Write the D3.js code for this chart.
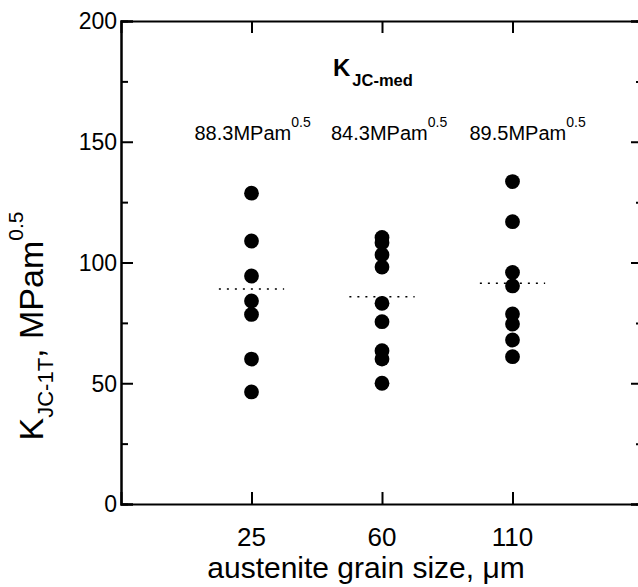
<!DOCTYPE html>
<html>
<head>
<meta charset="utf-8">
<script src="https://cdn.jsdelivr.net/npm/d3@7"></script>
<style>
  body { margin: 0; background: #fff; }
  svg { font-family: Arial, "Liberation Sans", sans-serif; }
</style>
</head>
<body>
<div id="chart"></div>
<script>
// grain size groups and K_JC(1T) values
var grainSizes = ["25", "60", "110"];
var kjc25 = [128.7, 108.9, 94.4, 84.1, 78.5, 60.0, 46.4];
var kjc60 = [110.4, 108.2, 103.2, 98.1, 83.1, 75.5, 63.5, 60.0, 50.0];
var kjc110 = [133.5, 116.9, 95.9, 90.3, 78.7, 74.5, 67.9, 61.0];
var medLine = [89.0, 85.8, 91.4];          // dotted median marks
var medLabels = ["88.3", "84.3", "89.5"];  // K_JC-med texts
var yTicks = [0, 50, 100, 150, 200];
var yMinor = [25, 75, 125, 175];

var width = 638, height = 587;
var m = {left: 121, top: 21, bottom: 83};
var plotRight = 643;

var svg = d3.select("#chart").append("svg")
  .attr("width", width)
  .attr("height", height);

var x = d3.scaleLinear().domain([0, 4]).range([m.left, plotRight]);
var y = d3.scaleLinear().domain([0, 200]).range([height - m.bottom, m.top]);

var catPos = grainSizes.map(function(d, i) { return i + 1; });

// frame axes, ticks pointing inward
var g = svg.append("g");
g.append("g")
  .attr("transform", "translate(" + x(0) + ",0)")
  .call(d3.axisRight(y).tickValues(yTicks).tickSize(12).tickFormat(""));
g.append("g")
  .attr("transform", "translate(" + x(0) + ",0)")
  .call(d3.axisRight(y).tickValues(yMinor).tickSize(7).tickFormat(""));
g.append("g")
  .attr("transform", "translate(" + x(4) + ",0)")
  .call(d3.axisLeft(y).tickValues(yTicks).tickSize(12).tickFormat(""));
g.append("g")
  .attr("transform", "translate(" + x(4) + ",0)")
  .call(d3.axisLeft(y).tickValues(yMinor).tickSize(7).tickFormat(""));
g.append("g")
  .attr("transform", "translate(0," + y(0) + ")")
  .call(d3.axisTop(x).tickValues(catPos).tickSize(12).tickFormat(""));
g.append("g")
  .attr("transform", "translate(0," + y(200) + ")")
  .call(d3.axisBottom(x).tickValues(catPos).tickSize(12).tickFormat(""));
g.selectAll(".domain").attr("stroke", "#000").attr("stroke-width", 2);
g.selectAll(".tick line").attr("stroke", "#000").attr("stroke-width", 2);

// y tick labels
svg.append("g").selectAll("text")
  .data(yTicks).enter().append("text")
  .attr("x", x(0) - 4)
  .attr("y", function(d) { return y(d); })
  .attr("dy", "0.36em")
  .attr("text-anchor", "end")
  .style("font-size", "23px")
  .text(function(d) { return d; });

// x tick labels
svg.append("g").selectAll("text")
  .data(grainSizes).enter().append("text")
  .attr("x", function(d, i) { return x(i + 1); })
  .attr("y", y(0) + 42)
  .attr("text-anchor", "middle")
  .style("font-size", "26px")
  .text(function(d) { return d; });

// axis titles
svg.append("text")
  .attr("x", 366)
  .attr("y", 578)
  .attr("text-anchor", "middle")
  .style("font-size", "30px")
  .text("austenite grain size, \u03bcm");

var yl = svg.append("text")
  .attr("transform", "translate(43," + 326 + ") rotate(-90)")
  .attr("text-anchor", "middle")
  .style("font-size", "34px");
yl.append("tspan").text("K");
yl.append("tspan").attr("dy", 10).style("font-size", "22px").text("JC-1T");
yl.append("tspan").attr("dy", -10).text(", MPam");
yl.append("tspan").attr("dy", -20).style("font-size", "21px").text("0.5");

// data points
var groups = [kjc25, kjc60, kjc110];
groups.forEach(function(vals, i) {
  svg.append("g").selectAll("circle")
    .data(vals).enter().append("circle")
    .attr("cx", x(i + 1))
    .attr("cy", function(d) { return y(d); })
    .attr("r", 7.4)
    .attr("fill", "#000");
});

// dotted median marks
svg.append("g").selectAll("line")
  .data(medLine).enter().append("line")
  .attr("x1", function(d, i) { return x(i + 1 - 0.25); })
  .attr("x2", function(d, i) { return x(i + 1 + 0.25); })
  .attr("y1", function(d) { return y(d); })
  .attr("y2", function(d) { return y(d); })
  .attr("stroke", "#000")
  .attr("stroke-width", 1.6)
  .attr("stroke-dasharray", "2,6");

// K_JC-med annotation
var kt = svg.append("text")
  .attr("x", 333)
  .attr("y", 76)
  .style("font-weight", "bold")
  .style("font-size", "24px");
kt.append("tspan").text("K");
kt.append("tspan").attr("dx", 2).attr("dy", 10).style("font-size", "16.5px").text("JC-med");

var labOff = [-57, -51, -43];
medLabels.forEach(function(t, i) {
  var lt = svg.append("text")
    .attr("x", x(i + 1) + labOff[i])
    .attr("y", 140)
    .style("font-size", "20px");
  lt.append("tspan").text(t + "MPam");
  lt.append("tspan").attr("dy", -13).style("font-size", "14px").text("0.5");
});
</script>
</body>
</html>
